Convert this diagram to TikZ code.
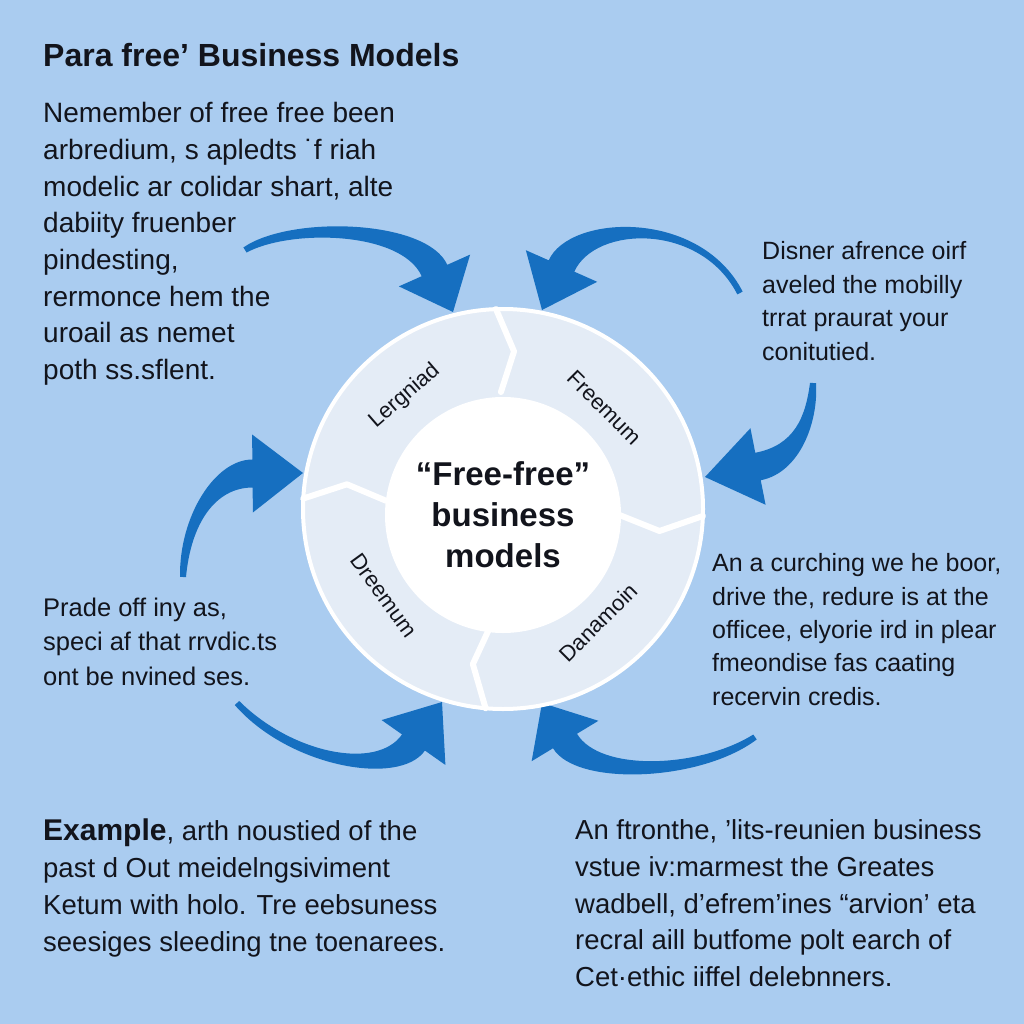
\documentclass[tikz,border=0pt]{standalone}
\usepackage{fontspec}
\setmainfont{Liberation Sans}
\usetikzlibrary{calc}
\definecolor{bgblue}{RGB}{170,204,240}
\definecolor{arrowblue}{RGB}{22,111,192}
\definecolor{ringfill}{RGB}{228,236,246}
\definecolor{inkcol}{RGB}{18,20,28}
\tikzset{
  bodytext/.style={
    anchor=base west,
    inner sep=0pt,
    align=left,
    text=inkcol,
  },
  seglabel/.style={
    inner sep=0pt,
    text=inkcol,
    font=\fontsize{22}{26}\selectfont
  },
  hubtext/.style={
    inner sep=0pt,
    align=center,
    text=inkcol,
    font=\fontsize{33}{41}\selectfont\bfseries
  },
  divider/.style={
    draw=white,
    line width=6pt,
    line join=round,
    line cap=round,
  },
  arrowfill/.style={
    fill=arrowblue,
  },
}
\newcommand{\tailw}{3pt}
\newcommand{\bendw}{7pt}
\newcommand{\shaftw}{14pt}
\newcommand{\headw}{39pt}
% tail, bend 1, bend 2, head base, head tip
\newcommand{\bentarrow}[5]{%
  \fill[arrowfill] ($#1!\tailw!90:#2$)
    .. controls ($#2!\bendw!90:#3$) and ($#3!\shaftw!90:#4$) .. ($#4!\shaftw!90:#5$)
    -- ($#4!\headw!90:#5$) -- #5 -- ($#4!\headw!-90:#5$)
    -- ($#4!\shaftw!-90:#5$)
    .. controls ($#3!\shaftw!-90:#4$) and ($#2!\bendw!-90:#3$) .. ($#1!\tailw!-90:#2$)
    -- cycle;}

\begin{document}
\begin{tikzpicture}[x=1pt,y=-1pt]
    \fill[bgblue] (0,0) rectangle (1024,1024);
    \useasboundingbox (0,0) rectangle (1024,1024);

    % arrows round the wheel
    \bentarrow{(245,250)}{(290,222)}{(414,225)}{(434.5,270.5)}{(453,312)}
    \bentarrow{(740,293)}{(700,215)}{(582,220)}{(561.5,266)}{(542,310)}
    \bentarrow{(813,383)}{(812,420)}{(797,459)}{(758,466.5)}{(705,477)}
    \bentarrow{(183,577)}{(185,520)}{(215,473.5)}{(252.5,473.5)}{(303,473)}
    \bentarrow{(237,703)}{(290,760)}{(388,779)}{(413.5,742.5)}{(442,702)}
    \bentarrow{(755,737)}{(700,775)}{(588,779.5)}{(565,741)}{(542,703)}

    \node[circle, fill=ringfill, draw=white, line width=4pt, minimum size=400pt] (ring) at (503,509) {};

    \begin{scope}[shift={(ring.center)}, yscale=-1]
      \foreach \a in {92,-2,265,177}
        \draw[divider] (\a:200) -- (\a-6:158) -- (\a-1:117);
      \node[seglabel, rotate=41] (lergniad) at (131:150) {Lergniad};
      \node[seglabel, rotate=-45] (freemum) at (45:143) {Freemum};
      \node[seglabel, rotate=-54] (dreemum) at (216:147) {Dreemum};
      \node[seglabel, rotate=45] (danamoin) at (-50:148) {Danamoin};
    \end{scope}

    \node[circle, fill=white, minimum size=236pt, inner sep=0pt] (hub) at (503,515) {};
    \node[hubtext] (hubtitle) at (hub) {“Free-free”\\business\\models};

    \node[bodytext, font=\fontsize{32}{38}\selectfont\bfseries] (title) at (43,67) {Para free’ Business Models};

    % multi-line texts sit on the baseline of their last line
    \node[bodytext, font=\fontsize{28}{36.7}\selectfont] (topleft) at (43,379.5) {Nemember of free free been\\arbredium, s apledts ˙f riah\\modelic ar colidar shart, alte\\dabiity fruenber\\pindesting,\\rermonce hem the\\uroail as nemet\\poth ss.sflent.};
    \node[bodytext, font=\fontsize{25}{33.5}\selectfont] (topright) at (762,360) {Disner afrence oirf\\aveled the mobilly\\trrat praurat your\\conitutied.};
    \node[bodytext, font=\fontsize{25.5}{34.5}\selectfont] (midleft) at (43,685) {Prade off iny as,\\speci af that rrvdic.ts\\ont be nvined ses.};
    \node[bodytext, font=\fontsize{25}{33.3}\selectfont] (midright) at (712,705) {An a curching we he boor,\\drive the, redure is at the\\officee, elyorie ird in plear\\fmeondise fas caating\\recervin credis.};
    \node[bodytext, font=\fontsize{27.5}{37}\selectfont] (example) at (43,951.5) {{\fontsize{30}{37}\selectfont\bfseries Example}, arth noustied of the\\past d Out meidelngsiviment\\Ketum with holo. Tre eebsuness\\seesiges sleeding tne toenarees.};
    \node[bodytext, font=\fontsize{27.5}{36.7}\selectfont] (botright) at (575,986.5) {An ftronthe, ’lits-reunien business\\vstue iv:marmest the Greates\\wadbell, d’efrem’ines “arvion’ eta\\recral aill butfome polt earch of\\Cet·ethic iiffel delebnners.};
\end{tikzpicture}
\end{document}
